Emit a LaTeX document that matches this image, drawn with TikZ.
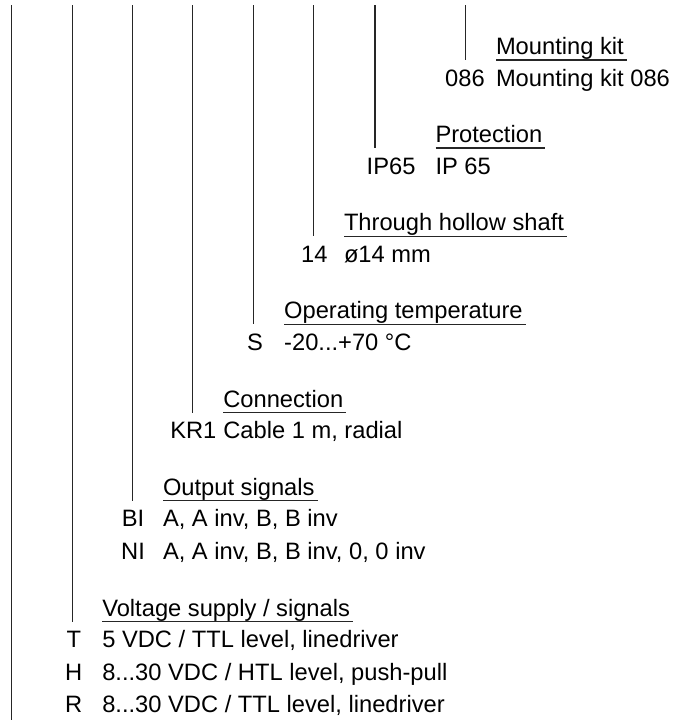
\documentclass[tikz,border=0pt]{standalone}
\usepackage{fontspec}
\setmainfont{Liberation Sans}
\usetikzlibrary{calc}
\tikzset{
  lbl/.style={inner sep=0pt, outer sep=0pt, anchor=base west, font=\fontsize{23.7}{28}\selectfont},
  code/.style={inner sep=0pt, outer sep=0pt, anchor=base, font=\fontsize{23.7}{28}\selectfont},
  vline/.style={line width=1.2pt, black!85},
  uline/.style={line width=1.2pt, black!85},
}
\newcommand{\grp}[6]{%
  % #1 name, #2 line x, #3 underline y, #4 title x, #5 title, #6 item text
  \coordinate (#1top) at (#2,5);
  \coordinate (#1bot) at (#2,#3);
  \draw[vline] (#1top) -- (#1bot);
  \node[lbl] (#1title) at (#4,#3-5.5) {#5};
  \coordinate (#1ul) at (#4,#3);
  \coordinate (#1ur) at ($(#1title.east |- #1ul)+(3,0)$);
  \draw[uline] (#1ul) -- (#1ur);
  \node[lbl] (#1item) at (#4,#3+26) {#6};
}
\begin{document}
\begin{tikzpicture}[x=1pt,y=-1pt]
\useasboundingbox (0,0) rectangle (672,720);
% leftmost line
\coordinate (ltop) at (11.8,5);
\coordinate (lbot) at (11.8,720);
\draw[vline] (ltop) -- (lbot);
% groups
\grp{mk}{465.5}{60}{496}{Mounting kit}{Mounting kit 086}
\node[code] (mkc) at (465,86) {086};
\grp{pr}{375}{148}{435.5}{Protection}{IP 65}
\node[lbl] (prc) at (366.7,174) {IP65};
\grp{hs}{313.7}{236.2}{344}{Through hollow shaft}{ø14 mm}
\node[code] (hsc) at (314.3,262.2) {14};
\grp{ot}{253.3}{324.3}{284.2}{Operating temperature}{-20...+70 °C}
\node[code] (otc) at (255,350.3) {S};
\grp{cn}{192.8}{412.5}{223.3}{Connection}{Cable 1 m, radial}
\node[code] (cnc) at (193.3,438.5) {KR1};
\grp{os}{132.8}{500.8}{163}{Output signals}{A, A inv, B, B inv}
\node[code] (osc1) at (133,526.8) {BI};
\node[lbl] (osi2) at (163,559.3) {A, A inv, B, B inv, 0, 0 inv};
\node[code] (osc2) at (133,559.3) {NI};
\grp{vs}{72.2}{621.7}{102.3}{Voltage supply / signals}{5 VDC / TTL level, linedriver}
\node[code] (vsc1) at (73.8,647.7) {T};
\node[lbl] (vsi2) at (102.3,680.2) {8...30 VDC / HTL level, push-pull};
\node[code] (vsc2) at (73.8,680.2) {H};
\node[lbl] (vsi3) at (102.3,712.7) {8...30 VDC / TTL level, linedriver};
\node[code] (vsc3) at (73.8,712.7) {R};
\end{tikzpicture}
\end{document}
